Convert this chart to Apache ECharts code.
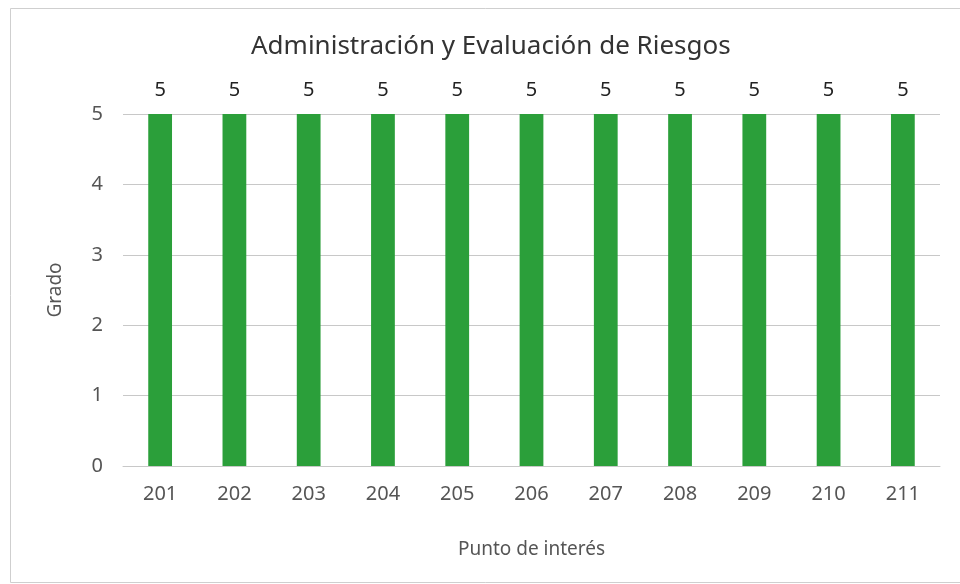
<!DOCTYPE html>
<html>
<head>
<meta charset="utf-8">
<script src="https://cdn.jsdelivr.net/npm/echarts@6/dist/echarts.min.js"></script>
<style>
  html, body { margin: 0; padding: 0; background: #fff; }
  #chart { width: 960px; height: 584px; }
</style>
</head>
<body>
<div id="chart"></div>
<script>
"use strict";

// Datos del gráfico
const puntos = ["201", "202", "203", "204", "205", "206", "207", "208", "209", "210", "211"];
const grados = [5, 5, 5, 5, 5, 5, 5, 5, 5, 5, 5];
const gradoTicks = [0, 1, 2, 3, 4, 5];

const FONT = '"Noto Sans", "Open Sans", sans-serif';
const C = { bar: "#2b9f3a", text: "#333", axis: "#555", grid: "#c8c8c8", frame: "#cfcfcf" };

const chart = echarts.init(document.getElementById("chart"));
chart.setOption({
    animation: false,
    textStyle: { fontFamily: FONT },
    // marco gris alrededor del gráfico
    graphic: [{
        type: "rect", left: 8, top: 6,
        shape: { width: 960, height: 574 },
        style: { fill: "none", stroke: C.frame, lineWidth: 1 }
    }],
    title: {
        text: "Administración y Evaluación de Riesgos",
        left: 246, top: 29,
        textStyle: { fontSize: 26, fontWeight: "normal", color: C.text, fontFamily: FONT }
    },
    grid: { left: 123, right: 20, top: 114, bottom: 118 },
    xAxis: {
        type: "category", data: puntos,
        name: "Punto de interés", nameLocation: "middle", nameGap: 74,
        nameTextStyle: { fontSize: 19, color: C.axis },
        axisLine: { lineStyle: { color: C.grid } },
        axisTick: { show: false },
        axisLabel: { fontSize: 20, color: C.axis, margin: 18 }
    },
    yAxis: {
        type: "value", min: gradoTicks[0], max: gradoTicks[gradoTicks.length - 1], interval: 1,
        name: "Grado", nameLocation: "middle", nameGap: 58,
        nameTextStyle: { fontSize: 19, color: C.axis },
        axisLine: { show: false }, axisTick: { show: false },
        axisLabel: { fontSize: 20, color: C.axis, margin: 20 },
        splitLine: { lineStyle: { color: C.grid } }
    },
    series: [{
        type: "bar", data: grados, barWidth: "32%",
        itemStyle: { color: C.bar },
        label: { show: true, position: "top", distance: 14, fontSize: 20, color: "#222" }
    }]
});
</script>
</body>
</html>
